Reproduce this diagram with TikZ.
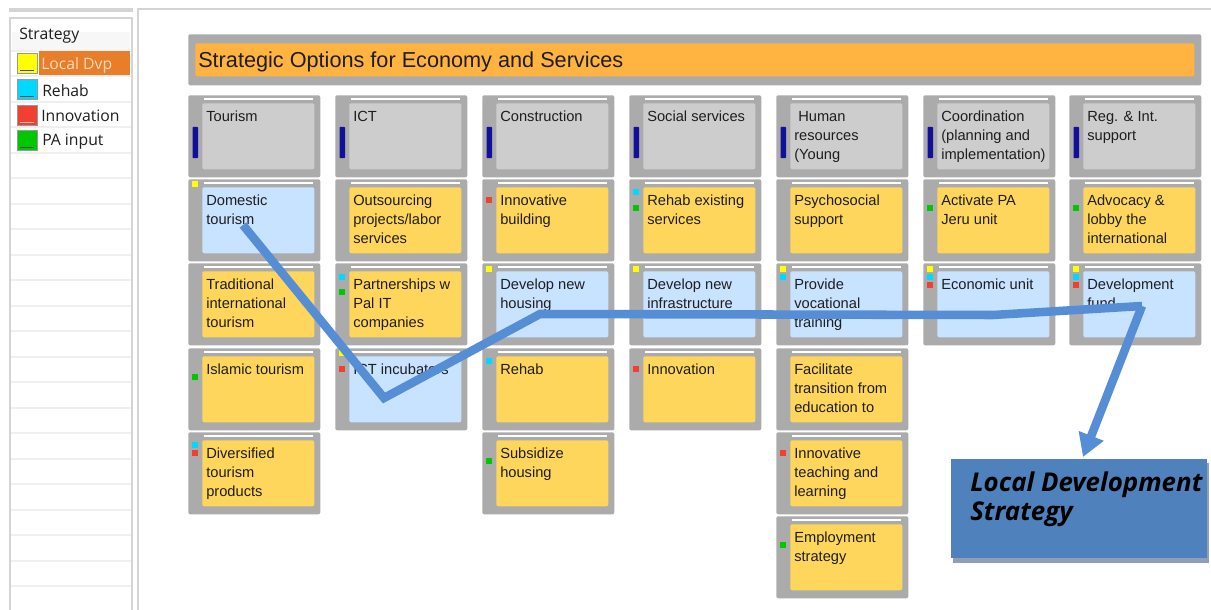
\documentclass[tikz,border=0pt]{standalone}
\usepackage{fontspec}
\setmainfont{Liberation Sans}
\newfontfamily\uifont{Open Sans}
\usetikzlibrary{arrows.meta,calc}
\definecolor{tilegray}{HTML}{ABABAB}
\definecolor{headgray}{HTML}{CDCDCD}
\definecolor{optyellow}{HTML}{FFD65C}
\definecolor{optblue}{HTML}{C8E3FF}
\definecolor{barorange}{HTML}{FFB340}
\definecolor{mkY}{HTML}{FFFF00}
\definecolor{mkC}{HTML}{00D8FF}
\definecolor{mkR}{HTML}{F04030}
\definecolor{mkG}{HTML}{00C800}
\definecolor{navy}{HTML}{10109A}
\definecolor{route}{HTML}{558ED5}
\definecolor{ldsblue}{HTML}{4F81BD}
\definecolor{ldsshadow}{HTML}{8F9FB5}
\definecolor{panelline}{HTML}{D4D4D4}
\definecolor{rowline}{HTML}{EFEFEF}
\definecolor{txtdark}{HTML}{1E1E1E}
\definecolor{selorange}{HTML}{E87D2A}
\definecolor{seltext}{HTML}{FFDCC0}
\tikzset{
  x=0.75pt,y=-0.75pt,
  tilebox/.style={fill=tilegray,rounded corners=1.5pt,inner sep=0pt,minimum width=99pt,minimum height=61.5pt,anchor=north west},
  innerbox/.style={rounded corners=1.5pt,inner sep=0pt,minimum width=84pt,minimum height=49.5pt,anchor=north west},
  tiletext/.style={anchor=north west,inner sep=0pt,align=left,text=txtdark,font=\fontsize{11pt}{14.25pt}\selectfont},
  uitext/.style={anchor=west,inner sep=0pt,text=txtdark,font=\uifont\fontsize{11.8pt}{13pt}\selectfont},
  swatch/.style={inner sep=0pt,minimum width=15pt,minimum height=15pt,draw=gray!80,line width=0.6pt,anchor=north west},
  marker/.style={inner sep=0pt,minimum size=4.5pt},
  routeline/.style={draw=route,line width=6.4pt,line join=miter},
}
\newcommand{\tile}[5]{% name, x, y, fill, text
  \node[tilebox] (#1) at (#2,#3) {};
  \draw[white,line width=0.9pt] ($(#2,#3)+(16,4)$) -- ($(#2,#3)+(125,4)$);
  \node[innerbox,fill=#4] (#1i) at ($(#2,#3)+(14,8)$) {};
  \node[tiletext] (#1t) at ($(#2,#3)+(18,16)$) {\rule{0pt}{8pt}#5};
}
\newcommand{\mk}[4]{\node[marker,fill=mk#4] (#1) at ($(#2,#3)+(7,0)$) {};}
\begin{document}
\begin{tikzpicture}
\useasboundingbox (0,0) rectangle (1211,610);
\fill[white] (0,0) rectangle (1211,610);
% left panel
\fill[panelline] (9,8) rectangle (133,12);
\draw[panelline,line width=1.5pt] (10,610) -- (10,18) -- (132,18) -- (132,610);
\draw[panelline,line width=1.5pt] (138,610) -- (138,9) -- (1211,9);
\fill[black!3] (12,32) rectangle (130,50);
\foreach \yy in {51,76,102,127,153,178,204,229,255,280,306,331,357,382,408,433,459,484,510,535,561,586}
  \draw[rowline,line width=0.8pt] (11,\yy) -- (131,\yy);
\node[uitext] (hstrategy) at (19,36) {Strategy};
\fill[selorange] (39,51) rectangle (130,75);
\node[swatch,fill=mkY] (s1) at (17,53) {};
\node[swatch,fill=mkC] (s2) at (17,79) {};
\node[swatch,fill=mkR] (s3) at (17,105) {};
\node[swatch,fill=mkG] (s4) at (17,130) {};
\draw[black!70,line width=0.7pt] (20,70.5) -- (34,70.5) (20,96.5) -- (34,96.5) (20,147.5) -- (34,147.5);
\draw[white!70!red,line width=0.7pt] (20,122) -- (34,122);
\node[uitext,text=seltext] (l1) at (41,65) {Local Dvp};
\node[uitext] (l2) at (42,91) {Rehab};
\node[uitext] (l3) at (41,116) {Innovation};
\node[uitext] (l4) at (42,142) {PA input};
% title bar
\node[fill=tilegray,rounded corners=1.5pt,inner sep=0pt,minimum width=759.75pt,minimum height=38.25pt,anchor=north west] (titlebar) at (188,34) {};
\node[fill=barorange,rounded corners=1.5pt,inner sep=0pt,minimum width=749.25pt,minimum height=24.75pt,anchor=north west] (titleinner) at (195,43) {};
\node[anchor=west,inner sep=0pt,text=txtdark,font=\fontsize{16.25pt}{20pt}\selectfont] (titletext) at (198,62) {Strategic Options for Economy and Services};
% column 1
\tile{a0}{188}{95}{headgray}{Tourism}
\tile{a1}{188}{179}{optblue}{Domestic\\tourism}
\tile{a2}{188}{263}{optyellow}{Traditional\\international\\tourism}
\tile{a3}{188}{348}{optyellow}{Islamic tourism}
\tile{a4}{188}{432}{optyellow}{Diversified\\tourism\\products}
% column 2
\tile{b0}{335}{95}{headgray}{ICT}
\tile{b1}{335}{179}{optyellow}{Outsourcing\\projects/labor\\services}
\tile{b2}{335}{263}{optyellow}{Partnerships w\\Pal IT\\companies}
\tile{b3}{335}{348}{optblue}{ICT incubators}
% column 3
\tile{c0}{482}{95}{headgray}{Construction}
\tile{c1}{482}{179}{optyellow}{Innovative\\building}
\tile{c2}{482}{263}{optblue}{Develop new\\housing}
\tile{c3}{482}{348}{optyellow}{Rehab}
\tile{c4}{482}{432}{optyellow}{Subsidize\\housing}
% column 4
\tile{d0}{629}{95}{headgray}{Social services}
\tile{d1}{629}{179}{optyellow}{Rehab existing\\services}
\tile{d2}{629}{263}{optblue}{Develop new\\infrastructure}
\tile{d3}{629}{348}{optyellow}{Innovation}
% column 5
\tile{e0}{776}{95}{headgray}{\hspace{3pt}Human\\resources\\(Young}
\tile{e1}{776}{179}{optyellow}{Psychosocial\\support}
\tile{e2}{776}{263}{optblue}{Provide\\vocational\\training}
\tile{e3}{776}{348}{optyellow}{Facilitate\\transition from\\education to}
\tile{e4}{776}{432}{optyellow}{Innovative\\teaching and\\learning}
\tile{e5}{776}{516}{optyellow}{Employment\\strategy}
% column 6
\tile{f0}{923}{95}{headgray}{Coordination\\(planning and\\implementation)}
\tile{f1}{923}{179}{optyellow}{Activate PA\\Jeru unit}
\tile{f2}{923}{263}{optblue}{Economic unit}
% column 7
\tile{g0}{1069}{95}{headgray}{Reg. \& Int.\\support}
\tile{g1}{1069}{179}{optyellow}{Advocacy \&\\lobby the\\international}
\tile{g2}{1069}{263}{optblue}{Development\\fund}
% navy bars on header tiles
\foreach \xx in {188,335,482,629,776,923,1069}
  \fill[navy,rounded corners=0.5pt] ($(\xx,127)+(4.5,0)$) rectangle ($(\xx,158)+(10,0)$);
% markers
\mk{ma}{188}{184}{Y}
\mk{mb}{188}{377}{G}
\mk{mc}{188}{445}{C}
\mk{md}{188}{453}{R}
\mk{me}{335}{277}{C}
\mk{mf}{335}{292}{G}
\mk{mg}{335}{353}{Y}
\mk{mh}{335}{369}{R}
\mk{mi}{482}{200}{R}
\mk{mj}{482}{269}{Y}
\mk{mk}{482}{361}{C}
\mk{ml}{482}{461}{G}
\mk{mm}{629}{192}{C}
\mk{mn}{629}{208}{G}
\mk{mo}{629}{269}{Y}
\mk{mp}{629}{369}{R}
\mk{mq}{776}{269}{Y}
\mk{mr}{776}{277}{C}
\mk{ms}{776}{453}{R}
\mk{mt}{776}{545}{G}
\mk{mu}{923}{208}{G}
\mk{mv}{923}{269}{Y}
\mk{mw}{923}{277}{C}
\mk{mx}{923}{285}{R}
\mk{my}{1069}{208}{G}
\mk{mz}{1069}{269}{Y}
\mk{mza}{1069}{277}{C}
\mk{mzb}{1069}{285}{R}
% strategy box
\fill[ldsshadow] (953,463) rectangle (1209,563);
\node[fill=ldsblue,inner sep=0pt,minimum width=192pt,minimum height=74.25pt,anchor=north west] (lds) at (951,459) {};
\node[anchor=north west,inner sep=0pt,align=left,text=black,font=\uifont\bfseries\itshape\fontsize{19.4pt}{21.75pt}\selectfont] (ldst) at (970,472) {Local Development\\Strategy};
% route
\coordinate (w1) at (243,225);
\coordinate (w2) at (384,398);
\coordinate (w3) at (540,314);
\coordinate (w4) at (993,315);
\coordinate (w5) at (1142,306);
\coordinate (w6) at (1083,457);
\draw[routeline] (w1) -- (w2) -- (w3) -- (w4) -- (w5);
\draw[routeline,-{Triangle[length=17pt,width=19pt]}] (w5) -- (w6);
\end{tikzpicture}
\end{document}
